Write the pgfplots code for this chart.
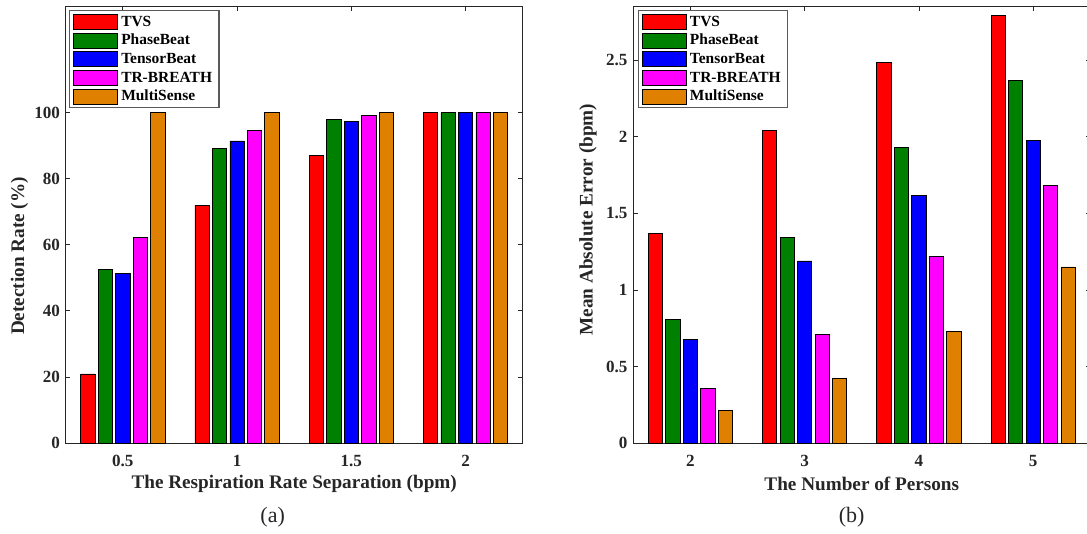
\documentclass[border=0pt]{standalone}
\usepackage{pgfplots}
\pgfplotsset{compat=1.18}
\usepackage{fontspec}
\setmainfont{Liberation Serif}
\definecolor{mred}{RGB}{255,0,0}
\definecolor{mgreen}{RGB}{0,128,0}
\definecolor{mblue}{RGB}{0,0,255}
\definecolor{mmag}{RGB}{255,0,255}
\definecolor{morange}{RGB}{224,128,0}
\definecolor{axgray}{RGB}{38,38,38}
\pgfplotsset{
  mybar/.style={ybar, bar width=0.125, bar shift=#1, draw=black, line width=0.6pt,
    legend image code/.code={\draw[##1, line width=0.6pt] (0pt,-5.6pt) rectangle (33pt,5.6pt);}},
  common/.style={
    scale only axis, width=342.75pt, height=327.2pt,
    xmin=-0.5, xmax=3.5, ymin=0,
    xtick={0,1,2,3},
    tick align=inside, major tick length=3.4pt,
    axis line style={axgray, line width=0.6pt},
    every tick/.style={axgray, line width=0.6pt},
    /pgf/number format/assume math mode=true,
    ticklabel style={font=\fontsize{12.8}{14}\selectfont\bfseries, text=axgray},
    xticklabel style={yshift=-5.5pt},
    yticklabel style={xshift=-0.8pt},
    label style={font=\fontsize{14.4}{16}\selectfont\bfseries, text=axgray},
    xlabel style={at={(axis description cs:0.5,-0.094)}, anchor=center},
    legend cell align=left,
    legend style={anchor=north west, draw=gray!70!black, line width=0.8pt, fill=white,
      inner xsep=2.6pt, inner ysep=2.6pt, row sep=2.2pt, column sep=0pt,
      font=\fontsize{11.6}{13}\selectfont\bfseries,
      nodes={inner xsep=2.6pt, inner ysep=0.8pt}},
  }
}
\begin{document}
\begin{tikzpicture}
\useasboundingbox (0,0) rectangle (815.25pt,399.75pt);
% (a)
\begin{axis}[common, at={(49.275pt,67.5pt)}, anchor=south west,
  ymax=132, ytick={0,20,40,60,80,100},
  xticklabels={0.5,1,1.5,2},
  xlabel={The Respiration Rate Separation (bpm)},
  ylabel={Detection Rate (\%)},
  ylabel style={at={(axis description cs:-0.1011,0.4286)}, anchor=center},
  legend style={at={(axis description cs:0.0072,0.9924)}},
]
\addplot[mybar=-0.306, fill=mred] coordinates {(0,20.9) (1,72.0) (2,86.9) (3,100)};
\addplot[mybar=-0.153, fill=mgreen] coordinates {(0,52.6) (1,89.1) (2,98.0) (3,100)};
\addplot[mybar=0, fill=mblue] coordinates {(0,51.3) (1,91.4) (2,97.2) (3,100)};
\addplot[mybar=0.153, fill=mmag] coordinates {(0,62.3) (1,94.6) (2,99.2) (3,100)};
\addplot[mybar=0.306, fill=morange] coordinates {(0,100) (1,100) (2,100) (3,100)};
\legend{TVS,PhaseBeat,TensorBeat,TR-BREATH,MultiSense}
\end{axis}
% (b)
\begin{axis}[common, at={(474.975pt,67.5pt)}, anchor=south west,
  ymax=2.85, ytick={0,0.5,1,1.5,2,2.5},
  xticklabels={2,3,4,5},
  xlabel={The Number of Persons},
  ylabel={Mean Absolute Error (bpm)},
  ylabel style={at={(axis description cs:-0.0991,0.512)}, anchor=center},
  legend style={at={(axis description cs:0.0096,0.9924)}},
]
\addplot[mybar=-0.306, fill=mred] coordinates {(0,1.369) (1,2.041) (2,2.488) (3,2.795)};
\addplot[mybar=-0.153, fill=mgreen] coordinates {(0,0.809) (1,1.340) (2,1.930) (3,2.368)};
\addplot[mybar=0, fill=mblue] coordinates {(0,0.679) (1,1.189) (2,1.616) (3,1.976)};
\addplot[mybar=0.153, fill=mmag] coordinates {(0,0.357) (1,0.708) (2,1.218) (3,1.684)};
\addplot[mybar=0.306, fill=morange] coordinates {(0,0.211) (1,0.420) (2,0.730) (3,1.150)};
\legend{TVS,PhaseBeat,TensorBeat,TR-BREATH,MultiSense}
\end{axis}
\node[font=\fontsize{16.5}{18}\selectfont, text=axgray] at (204.5pt,12pt) {(a)};
\node[font=\fontsize{16.5}{18}\selectfont, text=axgray] at (638.8pt,12pt) {(b)};
\end{tikzpicture}
\end{document}
